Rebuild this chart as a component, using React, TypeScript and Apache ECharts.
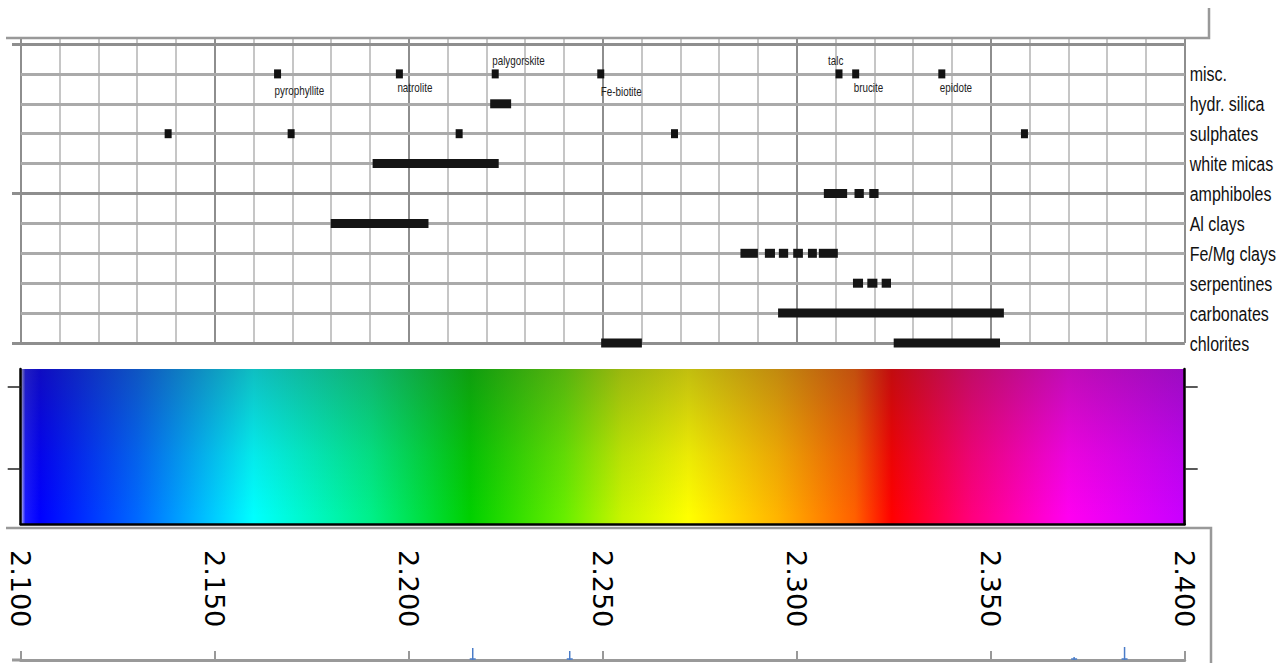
import React, { useEffect, useRef } from "react";
import * as echarts from "echarts";

// ---------- data ----------
const rowNames = ["", "misc.", "hydr. silica", "sulphates", "white micas", "amphiboles", "Al clays", "Fe/Mg clays", "serpentines", "carbonates", "chlorites"];

const miscNames = ["pyrophyllite", "natrolite", "palygorskite", "Fe-biotite", "talc", "brucite", "epidote"];
const miscWavelengths = [2.1662, 2.1976, 2.2223, 2.2495, 2.3109, 2.3152, 2.3374];

const sulphateWavelengths = [2.138, 2.1697, 2.213, 2.2685, 2.3587];

const hydrSilica = [[2.221, 2.2264]];
const whiteMicas = [[2.1907, 2.2232]];
const amphiboles = [[2.307, 2.313], [2.3149, 2.3173], [2.3187, 2.3211]];
const alClays = [[2.1799, 2.2051]];
const feMgClays = [[2.2855, 2.29], [2.2918, 2.2944], [2.2954, 2.2978], [2.2991, 2.3016], [2.3029, 2.3052], [2.3057, 2.3106]];
const serpentines = [[2.3145, 2.3171], [2.3182, 2.3208], [2.3219, 2.3243]];
const carbonates = [[2.2952, 2.3534]];
const chlorites = [[2.2496, 2.2601], [2.325, 2.3524]];

const colorStopWavelengths = [2.1, 2.1012, 2.105, 2.13, 2.16, 2.19, 2.2158, 2.24, 2.255, 2.272, 2.295, 2.315, 2.3245, 2.345, 2.37, 2.4];
const colorStopColors = ["#c8c8ee", "#1a1aff", "#0000ff", "#0068ff", "#00ffff", "#00f08a", "#00d000", "#66ee00", "#c8f400", "#ffff00", "#ffb400", "#ff6000", "#ff0000", "#ff007c", "#ff00f0", "#c800ff"];

const blueMarkWavelengths = [2.2165, 2.2415, 2.3715, 2.3845];
const blueMarkHeights = [12, 9, 3, 13];

const X_MIN = 2.1;
const X_MAX = 2.4;

// ---------- layout / style (not data) ----------
const labelOffsets: Record<string, [number, number]> = {
  pyrophyllite: [-3, 17],
  natrolite: [-2, 14],
  palygorskite: [-3, -13],
  "Fe-biotite": [0, 18],
  talc: [-11, -13],
  brucite: [-2, 14],
  epidote: [-2, 14],
};

const GL = 20.7;
const GR = 1279 - 1184.7;
const SANS = '"Liberation Sans", Arial, sans-serif';
const NARROW_SCALE = 0.82;

function rowOf(name: string) {
  return rowNames.indexOf(name);
}

export default function App() {
  const ref = useRef<HTMLDivElement>(null);

  useEffect(() => {
    if (!ref.current) return;
    const chart = echarts.init(ref.current, undefined, { renderer: "svg" });

    const segData: number[][] = [];
    const addSegs = (segs: number[][], name: string) => {
      segs.forEach((s) => segData.push([s[0], s[1], rowOf(name)]));
    };
    addSegs(hydrSilica, "hydr. silica");
    addSegs(whiteMicas, "white micas");
    addSegs(amphiboles, "amphiboles");
    addSegs(alClays, "Al clays");
    addSegs(feMgClays, "Fe/Mg clays");
    addSegs(serpentines, "serpentines");
    addSegs(carbonates, "carbonates");
    addSegs(chlorites, "chlorites");

    const miscData = miscWavelengths.map((w, i) => [w, rowOf("misc."), i]);
    const sulphData = sulphateWavelengths.map((w) => [w, rowOf("sulphates")]);
    const rowLabelData = rowNames.map((n, i) => [X_MAX, i]);

    const gradStops = colorStopWavelengths.map((w, i) => ({
      offset: (w - X_MIN) / (X_MAX - X_MIN),
      color: colorStopColors[i],
    }));

    const gridBase = { containLabel: false, outerBoundsMode: "none" };

    const hiddenX = (gridIndex: number) => ({
      type: "value" as const,
      gridIndex,
      min: X_MIN,
      max: X_MAX,
      show: false,
    });

    const option: any = {
      animation: false,
      backgroundColor: "#ffffff",
      grid: [
        { ...gridBase, left: GL, right: GR, top: 38, height: 305 },
        { ...gridBase, left: GL, right: GR, top: 44, height: 299 },
        { ...gridBase, left: 12, right: GR, top: 44, height: 299 },
        { ...gridBase, left: GL, right: GR, top: 369, height: 155 },
        { ...gridBase, left: GL, right: GR, top: 600, height: 60 },
      ],
      xAxis: [
        {
          type: "value", gridIndex: 0, min: X_MIN, max: X_MAX, interval: 0.01,
          axisLine: { show: false }, axisTick: { show: false }, axisLabel: { show: false },
          splitLine: { show: true, lineStyle: { color: "#c6c6c6", width: 2 } },
          z: 0,
        },
        {
          type: "value", gridIndex: 0, min: X_MIN, max: X_MAX, interval: 0.05,
          axisLine: { show: false }, axisTick: { show: false }, axisLabel: { show: false },
          splitLine: { show: true, lineStyle: { color: "#8e8e8e", width: 2 } },
          z: 0,
        },
        hiddenX(1),
        hiddenX(2),
        {
          type: "value", gridIndex: 3, min: X_MIN, max: X_MAX, interval: 0.05,
          axisLine: { show: true, lineStyle: { color: "#000", width: 2.5 } },
          axisTick: { show: false }, axisLabel: { show: false }, splitLine: { show: false },
          z: 3,
        },
        {
          type: "value", gridIndex: 3, min: X_MIN, max: X_MAX, interval: 0.05,
          position: "bottom", offset: 4,
          axisLine: { show: false },
          axisTick: { show: true, inside: true, length: 4, lineStyle: { color: "#999", width: 2 } },
          axisLabel: {
            show: true, rotate: -90, margin: 22, fontSize: 27, color: "#000",
            fontFamily: '"DejaVu Sans", sans-serif',
            formatter: (v: number) => v.toFixed(3),
          },
          splitLine: { show: false },
        },
        {
          type: "value", gridIndex: 4, min: X_MIN, max: X_MAX, interval: 0.05,
          axisLine: { show: true, lineStyle: { color: "#999", width: 3 } },
          axisTick: { show: true, inside: true, length: 9, lineStyle: { color: "#999", width: 2 } },
          axisLabel: { show: false }, splitLine: { show: false },
        },
      ],
      yAxis: [
        { type: "value", gridIndex: 0, min: 0, max: 1, show: false },
        {
          type: "value", gridIndex: 1, min: 0, max: 10, interval: 1, inverse: true, position: "right",
          axisLine: { show: false }, axisTick: { show: false }, axisLabel: { show: false },
          splitLine: { show: true, lineStyle: { color: "#aaaaaa", width: 3 } },
          z: 1,
        },
        {
          type: "value", gridIndex: 2, min: 0, max: 10, interval: 5, inverse: true,
          axisLine: { show: false }, axisTick: { show: false }, axisLabel: { show: false },
          splitLine: { show: true, lineStyle: { color: "#8e8e8e", width: 3 } },
          z: 2,
        },
        {
          type: "value", gridIndex: 3, min: 0, max: 1, position: "left",
          axisLine: { show: true, lineStyle: { color: "#000", width: 2.5 } },
          axisTick: { show: true, length: 13, customValues: [0.358, 0.884], lineStyle: { color: "#222", width: 1.5 } },
          axisLabel: { show: false }, splitLine: { show: false }, z: 3,
        },
        {
          type: "value", gridIndex: 3, min: 0, max: 1, position: "right",
          axisLine: { show: true, lineStyle: { color: "#000", width: 2.5 } },
          axisTick: { show: true, length: 13, customValues: [0.358, 0.884], lineStyle: { color: "#222", width: 1.5 } },
          axisLabel: { show: false }, splitLine: { show: false }, z: 3,
        },
        { type: "value", gridIndex: 4, min: 0, max: 1, show: false },
      ],
      series: [
        {
          type: "custom",
          name: "ranges",
          xAxisIndex: 2,
          yAxisIndex: 1,
          clip: false,
          z: 5,
          encode: { x: [0, 1], y: 2 },
          data: segData,
          renderItem: (params: any, api: any) => {
            const p0 = api.coord([api.value(0), api.value(2)]);
            const p1 = api.coord([api.value(1), api.value(2)]);
            return {
              type: "rect",
              shape: { x: p0[0], y: p0[1] - 4.5, width: p1[0] - p0[0], height: 9 },
              style: { fill: "#151515" },
            };
          },
        },
        {
          type: "custom",
          name: "misc.",
          xAxisIndex: 2,
          yAxisIndex: 1,
          clip: false,
          z: 5,
          encode: { x: 0, y: 1 },
          data: miscData,
          renderItem: (params: any, api: any) => {
            const p = api.coord([api.value(0), api.value(1)]);
            const name = miscNames[api.value(2)];
            const off = labelOffsets[name] || [0, 14];
            return {
              type: "group",
              children: [
                { type: "rect", shape: { x: p[0] - 3.5, y: p[1] - 4.5, width: 7, height: 9 }, style: { fill: "#111" } },
                {
                  type: "text",
                  x: p[0] + off[0],
                  y: p[1] + off[1],
                  scaleX: NARROW_SCALE,
                  style: {
                    text: name, x: 0, y: 0, align: "left", verticalAlign: "middle",
                    fill: "#222", fontSize: 12, fontFamily: SANS,
                  },
                },
              ],
            };
          },
        },
        {
          type: "custom",
          name: "sulphates",
          xAxisIndex: 2,
          yAxisIndex: 1,
          clip: false,
          z: 5,
          encode: { x: 0, y: 1 },
          data: sulphData,
          renderItem: (params: any, api: any) => {
            const p = api.coord([api.value(0), api.value(1)]);
            return { type: "rect", shape: { x: p[0] - 3.5, y: p[1] - 4.5, width: 7, height: 9 }, style: { fill: "#111" } };
          },
        },
        {
          type: "custom",
          name: "rowLabels",
          xAxisIndex: 2,
          yAxisIndex: 1,
          clip: false,
          z: 5,
          encode: { x: 0, y: 1 },
          data: rowLabelData,
          renderItem: (params: any, api: any) => {
            const p = api.coord([api.value(0), api.value(1)]);
            return {
              type: "text",
              x: p[0] + 5,
              y: p[1] + 1,
              scaleX: NARROW_SCALE,
              style: {
                text: rowNames[params.dataIndex], x: 0, y: 0, align: "left", verticalAlign: "middle",
                fill: "#111", fontSize: 19.5, fontFamily: SANS,
              },
            };
          },
        },
        {
          type: "custom",
          name: "colourbar",
          xAxisIndex: 4,
          yAxisIndex: 3,
          clip: false,
          z: 1,
          data: [[X_MIN, X_MAX]],
          encode: { x: [0, 1] },
          renderItem: (params: any, api: any) => {
            const p0 = api.coord([api.value(0), 1]);
            const p1 = api.coord([api.value(1), 0]);
            const shape = { x: p0[0], y: p0[1], width: p1[0] - p0[0], height: p1[1] - p0[1] };
            return {
              type: "group",
              children: [
                {
                  type: "rect",
                  shape,
                  style: { fill: new echarts.graphic.LinearGradient(0, 0, 1, 0, gradStops) },
                },
                {
                  type: "rect",
                  shape,
                  style: {
                    fill: new echarts.graphic.LinearGradient(0, 0, 0, 1, [
                      { offset: 0, color: "rgba(50,40,50,0.3)" },
                      { offset: 0.55, color: "rgba(50,40,50,0.1)" },
                      { offset: 0.95, color: "rgba(50,40,50,0)" },
                    ]),
                  },
                },
              ],
            };
          },
        },
        {
          type: "custom",
          name: "features",
          xAxisIndex: 6,
          yAxisIndex: 5,
          clip: false,
          z: 4,
          data: blueMarkWavelengths.map((w, i) => [w, blueMarkHeights[i]]),
          encode: { x: 0 },
          renderItem: (params: any, api: any) => {
            const p = api.coord([api.value(0), 0]);
            const h = api.value(1);
            return {
              type: "group",
              children: [
                { type: "line", shape: { x1: p[0], y1: p[1], x2: p[0], y2: p[1] - h }, style: { stroke: "#4a7cc8", lineWidth: 1.5 } },
                { type: "line", shape: { x1: p[0] - 3, y1: p[1] - 1, x2: p[0] + 3, y2: p[1] - 1 }, style: { stroke: "#4a7cc8", lineWidth: 1.5 } },
              ],
            };
          },
        },
      ],
      graphic: [
        {
          type: "polyline",
          shape: { points: [[6, 38], [1209, 38], [1209, 8]] },
          style: { stroke: "#999", lineWidth: 2.5, fill: null },
          z: 10,
        },
        {
          type: "polyline",
          shape: { points: [[6, 528], [1211, 528], [1211, 663]] },
          style: { stroke: "#999", lineWidth: 2.5, fill: null },
          z: 10,
        },
        {
          type: "line",
          shape: { x1: 12, y1: 660, x2: 21, y2: 660 },
          style: { stroke: "#999", lineWidth: 3 },
          z: 10,
        },
      ],
    };

    chart.setOption(option);
    return () => chart.dispose();
  }, []);

  return <div ref={ref} style={{ position: "fixed", left: 0, top: 0, width: 1279, height: 663 }} />;
}
